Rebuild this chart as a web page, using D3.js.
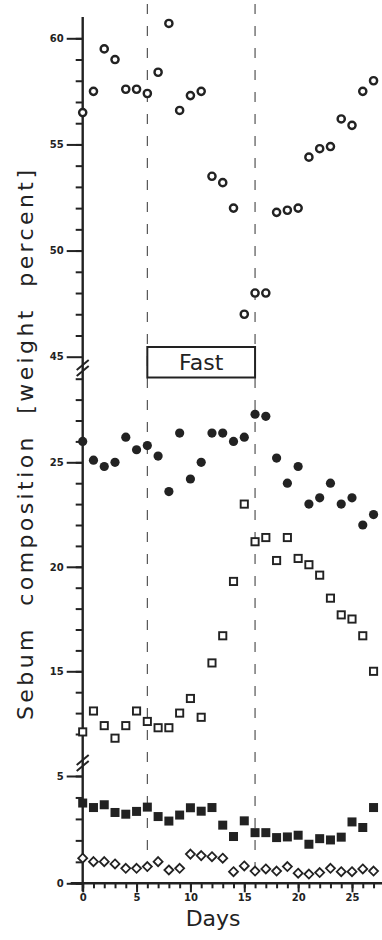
<!DOCTYPE html>
<html>
<head>
<meta charset="utf-8">
<script src="https://cdn.jsdelivr.net/npm/d3@7"></script>
<style>
  body { margin: 0; background: #fff; }
  svg text { font-family: "DejaVu Sans", sans-serif; fill: #222; }
  .tick text { font-weight: bold; font-size: 10px; }
</style>
</head>
<body>
<div id="chart"></div>
<script>
// days of the experiment
var days = [0,1,2,3,4,5,6,7,8,9,10,11,12,13,14,15,16,17,18,19,20,21,22,23,24,25,26,27];
var dayLabels = [0, 5, 10, 15, 20, 25];
var fastStart = 6, fastEnd = 16;

// upper panel (45 - 61): open circles
var openCircles = [56.5, 57.5, 59.5, 59.0, 57.6, 57.6, 57.4, 58.4, 60.7, 56.6, 57.3, 57.5,
  53.5, 53.2, 52.0, 47.0, 48.0, 48.0, 51.8, 51.9, 52.0, 54.4, 54.8, 54.9, 56.2, 55.9, 57.5, 58.0];

// middle panel (12 - 29): filled circles and open squares
var filledCircles = [26.0, 25.1, 24.8, 25.0, 26.2, 25.6, 25.8, 25.3, 23.6, 26.4, 24.2, 25.0,
  26.4, 26.4, 26.0, 26.2, 27.3, 27.2, 25.2, 24.0, 24.8, 23.0, 23.3, 24.0, 23.0, 23.3, 22.0, 22.5];
var openSquares = [12.1, 13.1, 12.4, 11.8, 12.4, 13.1, 12.6, 12.3, 12.3, 13.0, 13.7, 12.8,
  15.4, 16.7, 19.3, 23.0, 21.2, 21.4, 20.3, 21.4, 20.4, 20.1, 19.6, 18.5, 17.7, 17.5, 16.7, 15.0];

// lower panel (0 - 5): filled squares and open diamonds
var filledSquares = [3.74, 3.53, 3.66, 3.30, 3.22, 3.35, 3.55, 3.11, 2.90, 3.18, 3.52, 3.36,
  3.53, 2.71, 2.18, 2.91, 2.36, 2.36, 2.13, 2.16, 2.24, 1.82, 2.08, 2.02, 2.15, 2.86, 2.60, 3.53];
var openDiamonds = [1.17, 1.01, 1.01, 0.90, 0.70, 0.70, 0.78, 1.01, 0.62, 0.70, 1.36, 1.29,
  1.24, 1.17, 0.54, 0.81, 0.57, 0.67, 0.57, 0.78, 0.47, 0.43, 0.50, 0.70, 0.54, 0.54, 0.67, 0.57];

var topTicks = [46,47,48,49,50,51,52,53,54,55,56,57,58,59,60];
var topLabels = [45, 50, 55, 60];
var midTicks = [12,13,14,15,16,17,18,19,20,21,22,23,24,25,26,27,28,29];
var midLabels = [15, 20, 25];
var lowTicks = [0,1,2,3,4,5];
var lowLabels = [0, 5];

var width = 382, height = 940;
var ink = "#222";

var svg = d3.select("#chart").append("svg")
  .attr("width", width)
  .attr("height", height);

var x = d3.scaleLinear().domain([0, 25]).range([82.7, 352]);
var yTop = d3.scaleLinear().domain([45, 60]).range([356.7, 38.3]);
var yMid = d3.scaleLinear().domain([15, 25]).range([671.3, 462.3]);
var yLow = d3.scaleLinear().domain([0, 5]).range([883.3, 776]);

var axisX = x(0);
var baseY = yLow(0);

/******** fast period ********/
[fastStart, fastEnd].forEach(function (d) {
  svg.append("line")
    .attr("x1", x(d)).attr("x2", x(d))
    .attr("y1", 4).attr("y2", baseY)
    .attr("stroke", "#444")
    .attr("stroke-width", 1.1)
    .attr("stroke-dasharray", "10,12");
});
svg.append("rect")
  .attr("x", x(fastStart))
  .attr("y", 347)
  .attr("width", x(fastEnd) - x(fastStart))
  .attr("height", 30.5)
  .attr("fill", "#fff")
  .attr("stroke", ink)
  .attr("stroke-width", 2);
svg.append("text")
  .attr("x", (x(fastStart) + x(fastEnd)) / 2)
  .attr("y", 369.5)
  .attr("text-anchor", "middle")
  .style("font-size", "22px")
  .text("Fast");

/******** y axis ********/
function yAxisPart(scale, minor, major) {
  var gMinor = svg.append("g")
    .attr("transform", "translate(" + axisX + ",0)")
    .call(d3.axisLeft(scale).tickValues(minor).tickSize(7).tickFormat(""));
  var gMajor = svg.append("g")
    .attr("transform", "translate(" + axisX + ",0)")
    .call(d3.axisLeft(scale).tickValues(major).tickSize(16).tickPadding(3).tickFormat(d3.format("d")));
  [gMinor, gMajor].forEach(function (g) {
    g.select(".domain").remove();
    g.selectAll(".tick line").attr("stroke", ink).attr("stroke-width", 2);
  });
}
yAxisPart(yTop, topTicks, topLabels);
yAxisPart(yMid, midTicks, midLabels);
yAxisPart(yLow, lowTicks, lowLabels);

svg.append("line")
  .attr("x1", axisX).attr("x2", axisX)
  .attr("y1", yTop(61)).attr("y2", baseY + 8)
  .attr("stroke", ink)
  .attr("stroke-width", 2.4);

// axis breaks
[368, 763].forEach(function (cy) {
  [-3, 3].forEach(function (off) {
    svg.append("line")
      .attr("x1", axisX - 6).attr("y1", cy + off + 5)
      .attr("x2", axisX + 6).attr("y2", cy + off - 5)
      .attr("stroke", ink)
      .attr("stroke-width", 2);
  });
});

/******** x axis ********/
var gxMinor = svg.append("g")
  .attr("transform", "translate(0," + baseY + ")")
  .call(d3.axisBottom(x).tickValues(days).tickSize(5).tickFormat(""));
var gxMajor = svg.append("g")
  .attr("transform", "translate(0," + baseY + ")")
  .call(d3.axisBottom(x).tickValues(dayLabels).tickSize(9).tickPadding(2).tickFormat(d3.format("d")));
[gxMinor, gxMajor].forEach(function (g) {
  g.select(".domain").remove();
  g.selectAll(".tick line").attr("stroke", ink).attr("stroke-width", 2);
});
svg.append("line")
  .attr("x1", axisX - 12).attr("x2", width)
  .attr("y1", baseY).attr("y2", baseY)
  .attr("stroke", ink)
  .attr("stroke-width", 2.4);

/******** labels ********/
svg.append("text")
  .attr("x", (x(0) + x(27)) / 2 - 15)
  .attr("y", 926)
  .attr("text-anchor", "middle")
  .style("font-size", "22px")
  .text("Days");

svg.append("text")
  .attr("transform", "translate(33,445) rotate(-90)")
  .attr("text-anchor", "middle")
  .attr("textLength", 550)
  .attr("lengthAdjust", "spacing")
  .style("font-size", "22px")
  .style("word-spacing", "10px")
  .text("Sebum  composition  [weight  percent]");

/******** points ********/
function pairs(values) {
  return values.map(function (v, i) { return [days[i], v]; });
}

svg.append("g").selectAll("circle")
  .data(pairs(openCircles))
  .enter().append("circle")
  .attr("cx", function (d) { return x(d[0]); })
  .attr("cy", function (d) { return yTop(d[1]); })
  .attr("r", 3.6)
  .attr("fill", "#fff")
  .attr("stroke", ink)
  .attr("stroke-width", 2.4);

svg.append("g").selectAll("circle")
  .data(pairs(filledCircles))
  .enter().append("circle")
  .attr("cx", function (d) { return x(d[0]); })
  .attr("cy", function (d) { return yMid(d[1]); })
  .attr("r", 4.6)
  .attr("fill", ink);

svg.append("g").selectAll("rect")
  .data(pairs(openSquares))
  .enter().append("rect")
  .attr("x", function (d) { return x(d[0]) - 3.6; })
  .attr("y", function (d) { return yMid(d[1]) - 3.6; })
  .attr("width", 7.2)
  .attr("height", 7.2)
  .attr("fill", "#fff")
  .attr("stroke", ink)
  .attr("stroke-width", 1.9);

svg.append("g").selectAll("rect")
  .data(pairs(filledSquares))
  .enter().append("rect")
  .attr("x", function (d) { return x(d[0]) - 4.5; })
  .attr("y", function (d) { return yLow(d[1]) - 4.5; })
  .attr("width", 9)
  .attr("height", 9)
  .attr("fill", ink);

svg.append("g").selectAll("path")
  .data(pairs(openDiamonds))
  .enter().append("path")
  .attr("transform", function (d) { return "translate(" + x(d[0]) + "," + yLow(d[1]) + ")"; })
  .attr("d", "M0,-4.5L4.5,0L0,4.5L-4.5,0Z")
  .attr("fill", "#fff")
  .attr("stroke", ink)
  .attr("stroke-width", 1.8);
</script>
</body>
</html>
